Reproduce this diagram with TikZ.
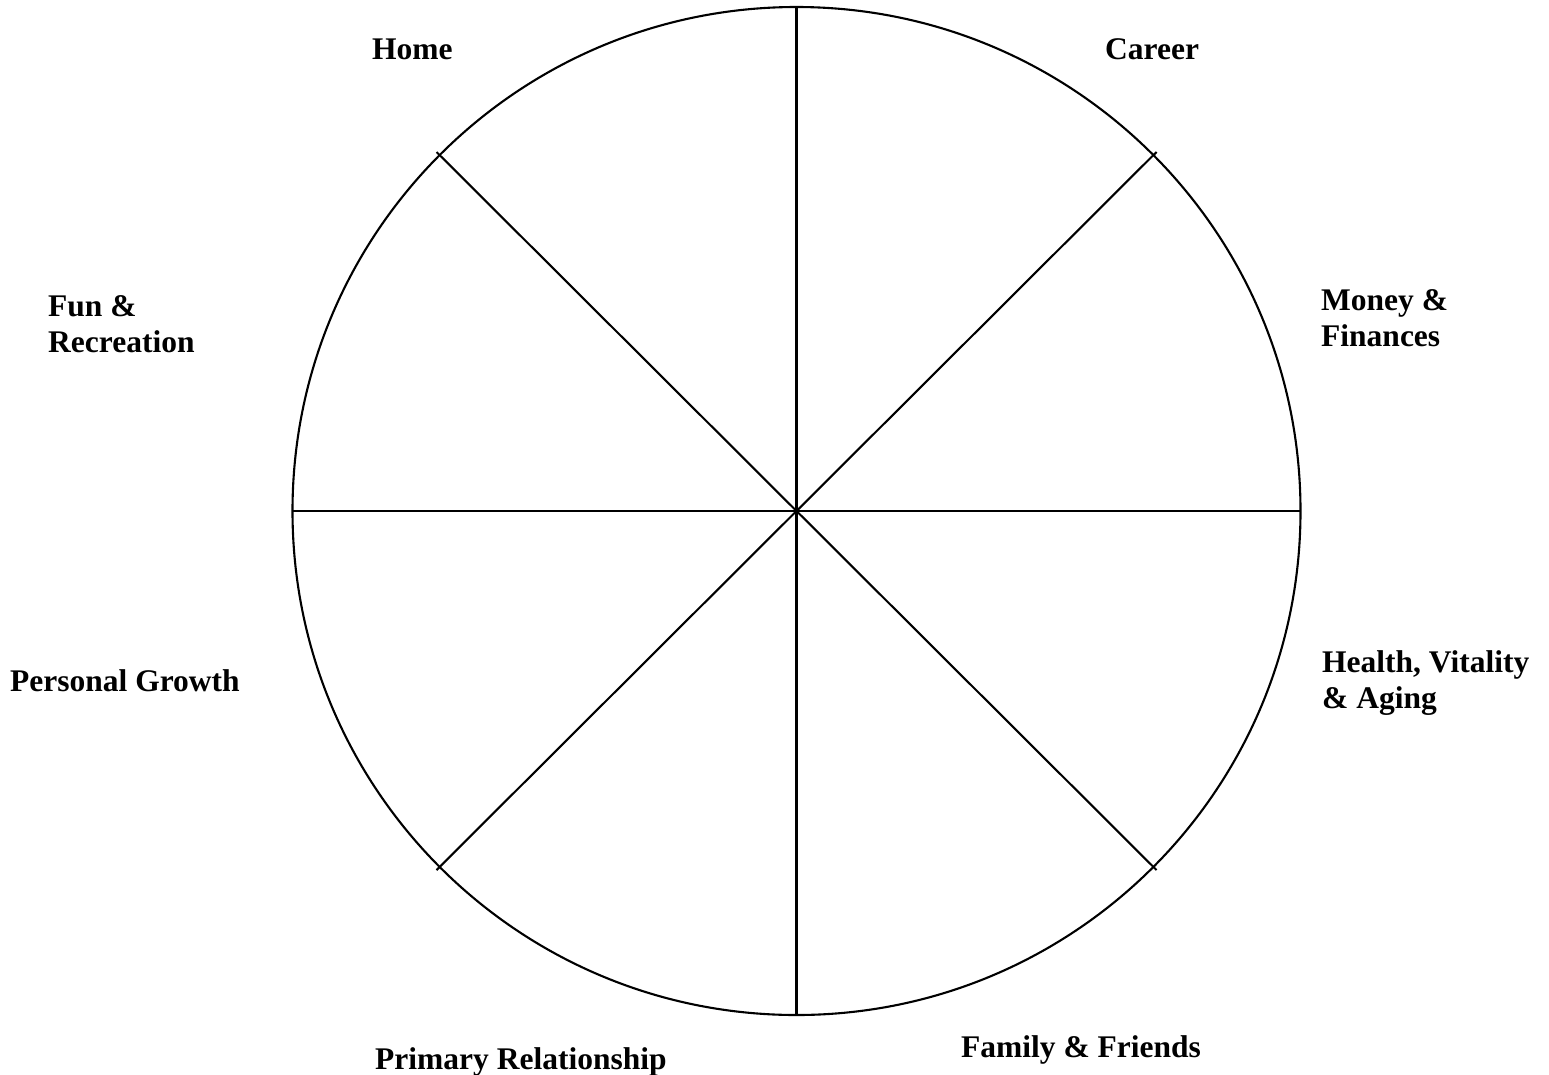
\documentclass[tikz,border=0pt]{standalone}
\usepackage{fontspec}
\setmainfont{Liberation Serif}
\usetikzlibrary{calc}
\tikzset{
  wheel/.style={line width=2.1pt, black},
  lbl/.style={anchor=base west, inner sep=0pt, align=left,
    font=\fontsize{31.5}{36}\selectfont\bfseries}
}
\begin{document}
\begin{tikzpicture}[x=1pt,y=-1pt]
\useasboundingbox (0,0) rectangle (1549,1074);
\fill[white] (0,0) rectangle (1549,1074);
\coordinate (c) at (796.5,511);
\draw[wheel] (c) circle[radius=504pt];
\coordinate (t) at ($(c)+(0,-504)$);
\coordinate (b) at ($(c)+(0,504)$);
\coordinate (l) at ($(c)+(-504,0)$);
\coordinate (r) at ($(c)+(504,0)$);
\coordinate (ul) at ($(c)+(-360,-359)$);
\coordinate (lr) at ($(c)+(360,359)$);
\coordinate (ur) at ($(c)+(360,-359)$);
\coordinate (ll) at ($(c)+(-360,359)$);
\draw[wheel] (t) -- (b);
\draw[wheel] (l) -- (r);
\draw[wheel] (ul) -- (lr);
\draw[wheel] (ur) -- (ll);
\node[lbl] (home) at (372,59) {Home};
\node[lbl] (career) at (1105,59) {Career};
\node[lbl] (fun) at (48,352) {Fun \&\\Recreation};
\node[lbl] (money) at (1321,346) {Money \&\\Finances};
\node[lbl] (health) at (1322,708) {Health, Vitality\\\& Aging};
\node[lbl] (growth) at (10,691) {Personal Growth};
\node[lbl] (primary) at (375,1069) {Primary Relationship};
\node[lbl] (family) at (961,1057) {Family \& Friends};
\end{tikzpicture}
\end{document}
